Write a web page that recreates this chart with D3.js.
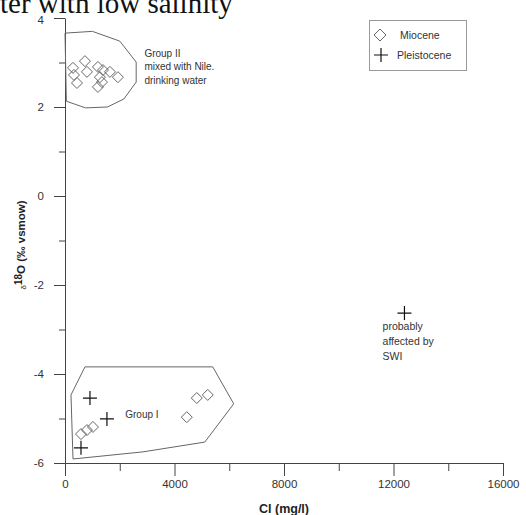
<!DOCTYPE html>
<html>
<head>
<meta charset="utf-8">
<script src="https://cdn.jsdelivr.net/npm/d3@7"></script>
<style>
  html, body { margin: 0; padding: 0; background: #fff; }
  svg { display: block; }
  text { font-family: "Liberation Sans", Arial, sans-serif; fill: #222; }
</style>
</head>
<body>
<svg id="chart" width="526" height="515"></svg>
<script>
// ---- data ----
const xTicks = [0, 4000, 8000, 12000, 16000];
const xMinorTicks = [2000, 6000, 10000, 14000];
const yTicks = [-6, -4, -2, 0, 2, 4];
const yMinorTicks = [-5, -3, -1, 1, 3];

const mioceneX = [292, 729, 328, 438, 802, 1203, 1386, 1276, 1641, 1933, 1203, 1349,
                  584, 802, 1021, 4449, 4814, 5215];
const mioceneY = [2.88, 3.03, 2.72, 2.54, 2.79, 2.90, 2.83, 2.67, 2.79, 2.67, 2.45, 2.56,
                  -5.35, -5.26, -5.19, -4.97, -4.54, -4.47];

const pleistoceneX = [912, 1532, 584, 12400];
const pleistoceneY = [-4.54, -5.01, -5.66, -2.63];

const groupIIPolyX = [0, 1000, 2000, 2600, 2600, 2150, 1550, 750, 50];
const groupIIPolyY = [3.66, 3.70, 3.48, 3.01, 2.56, 2.18, 2.00, 1.98, 2.13];
const groupIPolyX = [729, 5397, 6163, 5106, 2845, 292, 219];
const groupIPolyY = [-3.84, -3.84, -4.67, -5.53, -5.75, -5.91, -4.47];

const groupIILabel = ["Group II", "mixed with Nile.", "drinking water"];
const groupILabel = ["Group I"];
const swiLabel = ["probably", "affected by", "SWI"];
const legendLabels = ["Miocene", "Pleistocene"];

// ---- drawing ----
const svg = d3.select("#chart");
const x = d3.scaleLinear().domain([0, 16000]).range([65, 503]);
const y = d3.scaleLinear().domain([-6, 4]).range([463, 18]);

// cut-off title from the page above
svg.append("text").attr("x", 0).attr("y", 13)
  .style("font-family", "'Liberation Serif', 'Times New Roman', serif")
  .style("font-size", "29px").style("fill", "#111")
  .text("ter with low salinity");

const axisColor = "#444";
function styleAxis(g) {
  g.selectAll("path, line").attr("stroke", axisColor).attr("stroke-width", 1);
  g.selectAll("text").style("font-size", "11.5px").style("fill", "#333")
    .style("font-family", "'Liberation Sans', Arial, sans-serif");
}

// x axis
const gx = svg.append("g").attr("transform", `translate(0,${y(-6)})`);
gx.call(d3.axisBottom(x).tickValues(xTicks).tickSize(13).tickSizeOuter(0).tickPadding(4)
  .tickFormat(d3.format("d")));
styleAxis(gx);
const gxm = svg.append("g").attr("transform", `translate(0,${y(-6)})`);
gxm.call(d3.axisBottom(x).tickValues(xMinorTicks).tickSize(8).tickSizeOuter(0).tickFormat(""));
gxm.select(".domain").remove();
styleAxis(gxm);

// y axis
const gy = svg.append("g").attr("transform", `translate(${x(0)},0)`);
gy.call(d3.axisLeft(y).tickValues(yTicks).tickSize(11).tickSizeOuter(0).tickPadding(10)
  .tickFormat(d3.format("d")));
styleAxis(gy);
gy.selectAll(".tick text").text(d => d < 0 ? "-" + Math.abs(d) : d);
gy.selectAll(".tick text").filter(d => d === 4).attr("dy", "0.45em");
const gym = svg.append("g").attr("transform", `translate(${x(0)},0)`);
gym.call(d3.axisLeft(y).tickValues(yMinorTicks).tickSize(6).tickSizeOuter(0).tickFormat(""));
gym.select(".domain").remove();
styleAxis(gym);

// axis titles
svg.append("text").attr("x", x(8000)).attr("y", 513)
  .attr("text-anchor", "middle").style("font-size", "12.5px").style("font-weight", "bold")
  .text("Cl (mg/l)");

const yt = svg.append("text")
  .attr("transform", `translate(25,${(y(-1.1))}) rotate(-90)`)
  .attr("text-anchor", "middle").style("font-size", "11.5px").style("font-weight", "bold");
yt.append("tspan").style("font-size", "8px").style("font-weight", "normal").attr("dy", "0.15em").text("δ");
yt.append("tspan").attr("dy", "-0.45em").style("font-size", "10px").text("18");
yt.append("tspan").attr("dy", "0.3em").text("O (‰ vsmow)");

// polygons
const line = d3.line().x(d => x(d[0])).y(d => y(d[1])).curve(d3.curveLinearClosed);
const polyII = groupIIPolyX.map((v, i) => [v, groupIIPolyY[i]]);
const polyI = groupIPolyX.map((v, i) => [v, groupIPolyY[i]]);
svg.append("path").attr("d", line(polyII)).attr("fill", "none").attr("stroke", "#666").attr("stroke-width", 1);
svg.append("path").attr("d", line(polyI)).attr("fill", "none").attr("stroke", "#666").attr("stroke-width", 1);

// symbols
const diamondPath = (cx, cy, r) => `M${cx},${cy - r}L${cx + r},${cy}L${cx},${cy + r}L${cx - r},${cy}Z`;
const crossPath = (cx, cy, r) => `M${cx - r},${cy}H${cx + r}M${cx},${cy - r}V${cy + r}`;

svg.append("g").selectAll("path").data(mioceneX.map((v, i) => [v, mioceneY[i]]))
  .join("path")
  .attr("d", d => diamondPath(x(d[0]), y(d[1]), 5.5))
  .attr("fill", "none").attr("stroke", "#666").attr("stroke-width", 1);

svg.append("g").selectAll("path").data(pleistoceneX.map((v, i) => [v, pleistoceneY[i]]))
  .join("path")
  .attr("d", d => crossPath(x(d[0]), y(d[1]), 7))
  .attr("fill", "none").attr("stroke", "#111").attr("stroke-width", 1.2);

// annotations
function multiText(lines, px, py, lh, size) {
  const t = svg.append("text").attr("x", px).attr("y", py).style("font-size", size + "px").style("fill", "#333");
  lines.forEach((s, i) => t.append("tspan").attr("x", px).attr("dy", i === 0 ? 0 : lh).text(s));
}
multiText(groupIILabel, x(2900), y(3.13), 13.5, 10);
multiText(groupILabel, x(2200), y(-4.98), 13, 10);
multiText(swiLabel, x(11600), y(-3.0), 15, 10.5);

// legend
svg.append("rect").attr("x", 369.5).attr("y", 20.5).attr("width", 97).attr("height", 50)
  .attr("fill", "none").attr("stroke", "#999").attr("stroke-width", 1);
svg.append("path").attr("d", diamondPath(380, 35, 6)).attr("fill", "none").attr("stroke", "#666");
svg.append("path").attr("d", crossPath(381, 55, 7)).attr("fill", "none").attr("stroke", "#111").attr("stroke-width", 1.2);
svg.append("text").attr("x", 400).attr("y", 39).style("font-size", "10.5px").style("fill", "#333").text(legendLabels[0]);
svg.append("text").attr("x", 397).attr("y", 59).style("font-size", "10.5px").style("fill", "#333").text(legendLabels[1]);
</script>
</body>
</html>
